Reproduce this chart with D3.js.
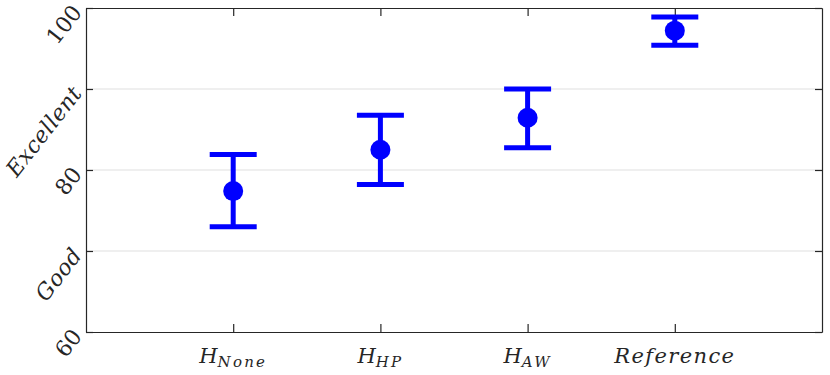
<!DOCTYPE html>
<html>
  <head>
    <meta charset="utf-8">
    <title>Ratings with error bars</title>
    <script src="https://cdn.jsdelivr.net/npm/d3@7"></script>
    <style>
      body { margin: 0; background: #fff; }
      .lab { font-family: "DejaVu Serif", "Liberation Serif", serif; fill: #262626; }
    </style>
  </head>
  <body>
    <svg id="chart" width="830" height="375"></svg>
    <script>
      // data
      const groups = [
        { main: "H", sub: "None" },
        { main: "H", sub: "HP" },
        { main: "H", sub: "AW" },
        { main: "Reference", sub: "" }
      ];
      const means = [77.4, 82.5, 86.45, 97.2];
      const lower = [73.0, 78.2, 82.75, 95.4];
      const upper = [81.9, 86.75, 90.0, 98.9];
      const yTicks = [60, 70, 80, 90, 100];
      const yTickLabels = ["60", "Good", "80", "Excellent", "100"];

      const margin = { top: 8, right: 8, bottom: 43, left: 86 };
      const width = 830, height = 375;
      const svg = d3.select("#chart");

      const x = d3.scaleLinear().domain([0, 5]).range([margin.left, width - margin.right]);
      const y = d3.scaleLinear().domain([60, 100]).range([height - margin.bottom, margin.top]);

      // grid
      svg.append("g")
        .selectAll("line")
        .data(yTicks.slice(1, -1))
        .join("line")
          .attr("x1", x(0)).attr("x2", x(5))
          .attr("y1", d => y(d)).attr("y2", d => y(d))
          .attr("stroke", "#dfdfdf").attr("stroke-width", 1);

      // axes (ticks point inward, box on)
      const axisColour = "#262626";
      const idx = groups.map((d, i) => i + 1);
      const xAxisB = d3.axisTop(x).tickValues(idx).tickSize(8).tickFormat("").tickSizeOuter(0);
      const xAxisT = d3.axisBottom(x).tickValues(idx).tickSize(8).tickFormat("").tickSizeOuter(0);
      const yAxisL = d3.axisRight(y).tickValues(yTicks).tickSize(7).tickFormat("").tickSizeOuter(0);
      const yAxisR = d3.axisLeft(y).tickValues(yTicks).tickSize(7).tickFormat("").tickSizeOuter(0);
      svg.append("g").attr("transform", `translate(0,${y(60)})`).call(xAxisB);
      svg.append("g").attr("transform", `translate(0,${y(100)})`).call(xAxisT);
      svg.append("g").attr("transform", `translate(${x(0)},0)`).call(yAxisL);
      svg.append("g").attr("transform", `translate(${x(5)},0)`).call(yAxisR);
      svg.selectAll(".domain, .tick line").attr("stroke", axisColour).attr("stroke-width", 1.2);

      // y tick labels, rotated
      svg.append("g")
        .selectAll("text")
        .data(yTicks)
        .join("text")
          .attr("class", "lab")
          .attr("transform", d => `translate(${x(0) - 9},${y(d)}) rotate(-52)`)
          .attr("text-anchor", "end")
          .attr("dominant-baseline", "central")
          .style("font-size", "22px")
          .style("font-style", (d, i) => i % 2 ? "italic" : "normal")
          .style("letter-spacing", (d, i) => i % 2 ? "0.4px" : "0px")
          .text((d, i) => yTickLabels[i]);

      // x tick labels with subscripts
      const xl = svg.append("g")
        .selectAll("text")
        .data(groups)
        .join("text")
          .attr("class", "lab")
          .attr("x", (d, i) => x(i + 1))
          .attr("y", 363)
          .attr("text-anchor", "middle")
          .style("font-style", "italic")
          .style("font-size", "21px");
      xl.append("tspan")
        .style("letter-spacing", d => d.sub ? "0px" : "1.4px")
        .text(d => d.main);
      xl.append("tspan")
        .attr("dy", 4)
        .style("font-size", "15px")
        .style("letter-spacing", "2.2px")
        .text(d => d.sub);

      // error bars
      const blue = "#0000ff";
      const bars = svg.append("g");
      const capW = 23.5;
      bars.selectAll(".stem")
        .data(means)
        .join("line")
          .attr("x1", (d, i) => x(i + 1)).attr("x2", (d, i) => x(i + 1))
          .attr("y1", (d, i) => y(lower[i])).attr("y2", (d, i) => y(upper[i]))
          .attr("stroke", blue).attr("stroke-width", 5);
      [lower, upper].forEach(arr => {
        bars.append("g")
          .selectAll("line")
          .data(arr)
          .join("line")
            .attr("x1", (d, i) => x(i + 1) - capW).attr("x2", (d, i) => x(i + 1) + capW)
            .attr("y1", d => y(d)).attr("y2", d => y(d))
            .attr("stroke", blue).attr("stroke-width", 5);
      });
      bars.selectAll("circle")
        .data(means)
        .join("circle")
          .attr("cx", (d, i) => x(i + 1))
          .attr("cy", d => y(d))
          .attr("r", 10)
          .attr("fill", blue);
    </script>
  </body>
</html>
